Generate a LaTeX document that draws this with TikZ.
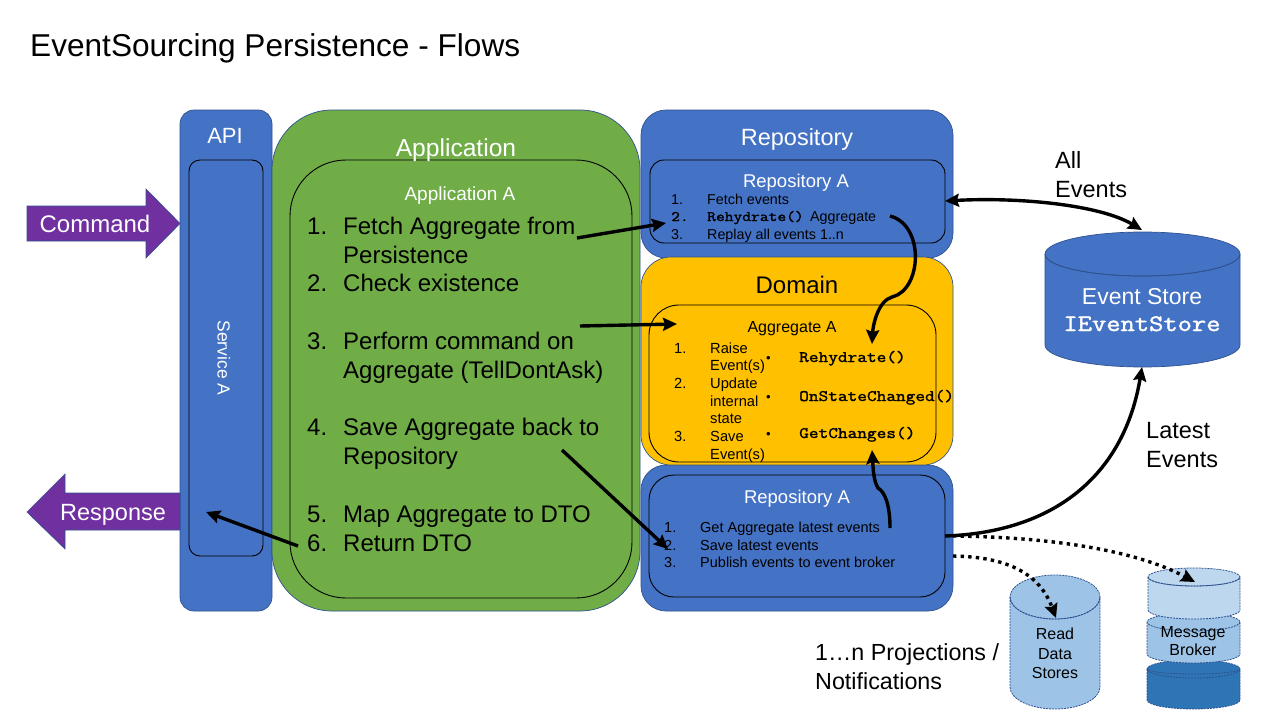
\documentclass[tikz,border=0pt]{standalone}
\usepackage{fontspec}
\setmainfont{Liberation Sans}
\newfontfamily\cmono{Latin Modern Mono}[FakeStretch=1.175,FakeBold=1.6]
\usetikzlibrary{arrows.meta,shapes.geometric}
\definecolor{cblue}{HTML}{4472C4}
\definecolor{cedge}{HTML}{2F528F}
\definecolor{cgreen}{HTML}{70AD47}
\definecolor{cyel}{HTML}{FFC000}
\definecolor{cpur}{HTML}{7030A0}
\definecolor{cl1}{HTML}{9DC3E6}
\definecolor{cl2}{HTML}{BDD7EE}
\definecolor{cd}{HTML}{2E75B6}
\newcommand{\fs}[1]{\fontsize{#1}{#1}\selectfont}
\newcommand{\mb}[1]{{\cmono #1}}
\tikzset{
 outer/.style={draw=cedge,line width=0.7pt},
 inner/.style={draw=black,line width=0.9pt},
 lbl/.style={inner sep=0pt,anchor=base west},
 ctr/.style={inner sep=0pt,anchor=base,align=center},
 conn/.style={line width=3.4pt,draw=black,-{Stealth[length=14pt,width=13pt,inset=2pt]}},
 dotc/.style={line width=3.4pt,draw=black,dash pattern=on 3.4pt off 4.2pt,-{Stealth[length=14pt,width=13pt,inset=2pt]}},
 cyldash/.style={draw=cedge,line width=0.8pt,dash pattern=on 2pt off 1pt},
 fatarr/.style={fill=cpur,draw=cedge,line width=0.6pt},
}
\begin{document}
\begin{tikzpicture}[x=1pt,y=-1pt]
\useasboundingbox (0,0) rectangle (1280,720);
\fill[white] (0,0) rectangle (1280,720);
\node[lbl] (title) at (30,56) {\fs{31.6}EventSourcing Persistence - Flows};

% API
\draw[outer,fill=cblue,rounded corners=14pt] (180,110) rectangle (272,611);
\draw[inner,rounded corners=11pt] (189,160) rectangle (263,556);
\node[ctr,white] (api) at (225,143) {\fs{22}API};
\node[inner sep=0pt,white,rotate=-90] (svc) at (224,358) {\fs{17.5}Service A};
% Application
\draw[outer,fill=cgreen,rounded corners=60pt] (272,110) rectangle (640,611);
\draw[inner,rounded corners=56pt] (290,160) rectangle (632,598);
\node[ctr,white] (app) at (456,156) {\fs{24.6}Application};
\node[ctr,white] (appa) at (460,200) {\fs{19}Application A};
\foreach \n/\y/\t in {1./234/Fetch Aggregate from,/263/Persistence,2./291/Check existence,3./349/Perform command on,/378/Aggregate (TellDontAsk),4./435/Save Aggregate back to,/464/Repository,5./522/Map Aggregate to DTO,6./551/Return DTO}{
 \node[lbl] at (307,\y) {\fs{24}\n};
 \node[lbl] at (343,\y) {\fs{24}\t};
}
% Repository top
\draw[outer,fill=cblue,rounded corners=25pt] (641,110) rectangle (953,258);
\draw[inner,rounded corners=14pt] (650,160) rectangle (945,243);
\node[ctr,white] (repo) at (797,145) {\fs{23.5}Repository};
\node[ctr,white] (repoa) at (796,187) {\fs{18.5}Repository A};
\node[lbl] at (671,204) {\fs{14.3}1.};
\node[lbl] at (707,204) {\fs{14.3}Fetch events};
\node[lbl] at (671,221) {\fs{14.5}\mb{2.}};
\node[lbl] at (707,221) {\fs{14.5}\mb{Rehydrate()}};
\node[lbl] at (810,221) {\fs{14.3}Aggregate};
\node[lbl] at (671,239) {\fs{14.3}3.};
\node[lbl] at (707,239) {\fs{14.3}Replay all events 1..n};
% Lower repo (below domain)
\draw[outer,fill=cblue,rounded corners=25pt] (641,465) rectangle (953,611);
\draw[inner,rounded corners=25pt] (649,475) rectangle (945,597);
\node[ctr] (repob) at (797,503) {\color{white}\fs{18.5}Repository A};
\foreach \n/\y/\t in {1./532/Get Aggregate latest events,2./550/Save latest events,3./567/Publish events to event broker}{
 \node[lbl] at (664,\y) {\fs{14.5}\n};
 \node[lbl] at (700,\y) {\fs{14.5}\t};
}
% Domain
\draw[outer,fill=cyel,rounded corners=30pt] (641,257) rectangle (953,465);
\draw[inner,rounded corners=30pt] (649,305) rectangle (936,462);
\node[ctr] (dom) at (797,293) {\fs{24}Domain};
\node[ctr] (agg) at (792,332) {\fs{16}Aggregate A};
\foreach \y/\n/\t in {353/1./Raise,370//Event(s),388/2./Update,406//internal,423//state,441/3./Save,459//Event(s)}{
 \node[lbl] at (674,\y) {\fs{14.7}\n};
 \node[lbl] at (710,\y) {\fs{14.7}\t};
}
\foreach \y/\t in {362/Rehydrate(),401/OnStateChanged(),438/GetChanges()}{
 \node[lbl] at (766,\y) {\fs{13}•};
 \node[lbl] at (799,\y) {\fs{16}\mb{\t}};
}
% Fat arrows
\draw[fatarr] (27,206) -- (146,206) -- (146,189) -- (180,223.5) -- (146,258) -- (146,241) -- (27,241) -- cycle;
\node[ctr,white] (cmd) at (95,232) {\fs{24}Command};
\draw[fatarr] (180,493) -- (65,493) -- (65,474) -- (27,512) -- (65,549) -- (65,530) -- (180,530) -- cycle;
\node[ctr,white] (resp) at (113,520) {\fs{23.5}Response};
% Event store cylinder
\draw[outer,fill=cblue] (1045,254) -- (1045,345) arc[start angle=180,end angle=0,x radius=97.5pt,y radius=-22pt] -- (1240,254) arc[start angle=0,end angle=360,x radius=97.5pt,y radius=22pt];
\draw[outer] (1045,254) arc[start angle=180,end angle=0,x radius=97.5pt,y radius=-22pt];
\node[ctr,white] (es) at (1142,304) {\fs{23}Event Store};
\node[ctr,white] (ies) at (1142,331) {\fs{23.6}\mb{IEventStore}};
% Read data stores
\draw[cyldash,fill=cl1] (1010,597) -- (1010,687) arc[start angle=180,end angle=0,x radius=45pt,y radius=-22pt] -- (1100,597) arc[start angle=0,end angle=360,x radius=45pt,y radius=22pt];
\draw[cyldash] (1010,597) arc[start angle=180,end angle=0,x radius=45pt,y radius=-22pt];
\node[ctr] (rds) at (1055,639) {\fs{16}Read};
\node[ctr] at (1055,659) {\fs{16}Data};
\node[ctr] at (1055,678) {\fs{16}Stores};
% Message broker
\draw[cyldash,fill=cd] (1147,669) -- (1147,700) arc[start angle=180,end angle=0,x radius=46.5pt,y radius=-9pt] -- (1240,669) arc[start angle=0,end angle=360,x radius=46.5pt,y radius=9pt];
\draw[cyldash,fill=cl1] (1147,622) -- (1147,654) arc[start angle=180,end angle=0,x radius=46.5pt,y radius=-9pt] -- (1240,622) arc[start angle=0,end angle=360,x radius=46.5pt,y radius=9pt];
\draw[cyldash] (1147,669) arc[start angle=180,end angle=0,x radius=46.5pt,y radius=-5pt];
\draw[cyldash,fill=cl2] (1148,577) -- (1148,610) arc[start angle=180,end angle=0,x radius=46pt,y radius=-9pt] -- (1240,577) arc[start angle=0,end angle=360,x radius=46pt,y radius=9pt];
\draw[cyldash] (1148,577) arc[start angle=180,end angle=0,x radius=46pt,y radius=-9pt];
\node[ctr] (mb) at (1193,637) {\fs{16}Message};
\node[ctr] at (1193,655) {\fs{16}Broker};
% Free labels
\node[lbl] (ae1) at (1055,168) {\fs{23.5}All};
\node[lbl] (ae2) at (1055,197) {\fs{23.5}Events};
\node[lbl] (le1) at (1146,438) {\fs{23.5}Latest};
\node[lbl] (le2) at (1146,467) {\fs{23.5}Events};
\node[lbl] (pn1) at (815,660) {\fs{23.3}1…n Projections /};
\node[lbl] (pn2) at (815,689) {\fs{23.3}Notifications};
% Connector ends
\coordinate (a1s) at (577,238); \coordinate (a1e) at (666,223);
\coordinate (a2s) at (580,326); \coordinate (a2e) at (677,324);
\coordinate (a3s) at (562,450); \coordinate (a3e) at (668,549);
\coordinate (a4s) at (298,546); \coordinate (a4e) at (206,512);
\coordinate (c1s) at (890,216); \coordinate (c1e) at (872,344);
\coordinate (c2s) at (890,528); \coordinate (c2e) at (872,450);
\coordinate (d1s) at (945,201); \coordinate (d1e) at (1142,230);
\coordinate (d2s) at (945,536); \coordinate (d2e) at (1142,367);
\coordinate (o1s) at (953,536); \coordinate (o1e) at (1195,582);
\coordinate (o2s) at (953,556); \coordinate (o2e) at (1056,618);
\draw[conn] (a1s) -- (a1e);
\draw[conn] (a2s) -- (a2e);
\draw[conn] (a3s) -- (a3e);
\draw[conn] (a4s) -- (a4e);
\draw[conn] (c1s) .. controls (925,225) and (922,290) .. (892,297) .. controls (878,301) and (873,325) .. (c1e);
\draw[conn] (c2s) .. controls (890,505) and (885,492) .. (878,488) .. controls (873,480) and (873,465) .. (c2e);
\draw[conn,{Stealth[length=14pt,width=13pt,inset=2pt]}-{Stealth[length=14pt,width=13pt,inset=2pt]}] (d1s) .. controls (1020,197) and (1100,205) .. (d1e);
\draw[conn] (d2s) .. controls (1060,532) and (1125,470) .. (d2e);
\draw[dotc] (o1s) .. controls (1050,537) and (1135,550) .. (o1e);
\draw[dotc] (o2s) .. controls (1010,557) and (1040,575) .. (o2e);
\end{tikzpicture}
\end{document}
